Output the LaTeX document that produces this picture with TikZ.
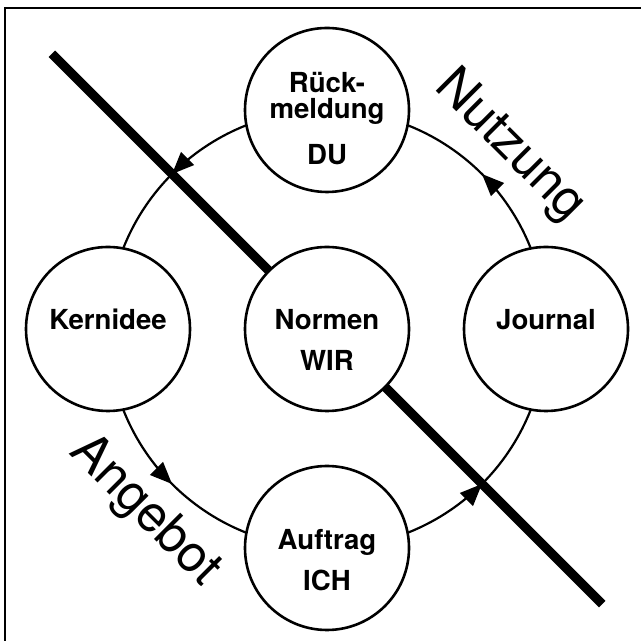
\documentclass[tikz,border=0pt]{standalone}
\usepackage{fontspec}
\setmainfont{TeX Gyre Heros}
\usetikzlibrary{positioning,backgrounds,decorations.markings,arrows.meta}

\tikzset{
  station/.style={circle, draw, line width=1.3pt, fill=white, minimum size=82pt, inner sep=0pt, outer sep=0pt},
  word/.style={anchor=base, font=\bfseries\fontsize{13.8}{16}\selectfont, inner sep=0pt},
  flow/.style={line width=1.1pt, decoration={markings, mark=at position 0.5 with {\arrow{Triangle[length=11pt,width=9pt]}}}, postaction={decorate}},
  divide/.style={line width=4.6pt},
  side/.style={font=\fontsize{25.5}{30}\selectfont, rotate=-45, inner sep=0pt},
}

\begin{document}
\begin{tikzpicture}[node distance=27.5pt]
  \useasboundingbox (0,0) rectangle (320.5pt,320.5pt);
  \draw[line width=1.4pt] (2.5pt,-1pt) |- (322pt,316.5pt);

  % Define stations
  \node[station]                  (normen)  at (163.5pt,156pt) {};
  \node[station, above=of normen] (rueck)   {};
  \node[station, left=of normen]  (kern)    {};
  \node[station, right=of normen] (journal) {};
  \node[station, below=of normen] (auftrag) {};

  % Texts in the stations
  \node[word] (rueckA)   at ([yshift=8.5pt]rueck.center)    {Rück-};
  \node[word] (rueckB)   at ([yshift=-4.25pt]rueck.center)  {meldung};
  \node[word] (rueckC)   at ([yshift=-27.5pt]rueck.center)  {DU};
  \node[word] (normenA)  at ([yshift=-0.5pt]normen.center)  {Normen};
  \node[word] (normenB)  at ([yshift=-21pt]normen.center)   {WIR};
  \node[word] (kernA)    at ([yshift=-0.5pt]kern.center)    {Kernidee};
  \node[word] (journalA) at ([yshift=-0.5pt]journal.center) {Journal};
  \node[word] (auftragA) at ([yshift=-1pt]auftrag.center)   {Auftrag};
  \node[word] (auftragB) at ([yshift=-21.5pt]auftrag.center) {ICH};

  % Ends of the dividing line
  \coordinate (cutA) at ([shift={(135:194.6pt)}]normen.center);
  \coordinate (cutB) at ([shift={(-45:194.6pt)}]normen.center);

  % Connect the stations
  \begin{scope}[on background layer]
    \draw[flow] (journal.center) to[bend right=45] (rueck.center);
    \draw[flow] (rueck.center)   to[bend right=45] (kern.center);
    \draw[flow] (kern.center)    to[bend right=45] (auftrag.center);
    \draw[flow] (auftrag.center) to[bend right=45] (journal.center);
    \draw[divide] (cutA) -- (cutB);
  \end{scope}

  \node[side] (nutzung) at ([shift={(45:129pt)}]normen.center)  {Nutzung};
  \node[side] (angebot) at ([shift={(225:129pt)}]normen.center) {Angebot};
\end{tikzpicture}
\end{document}
